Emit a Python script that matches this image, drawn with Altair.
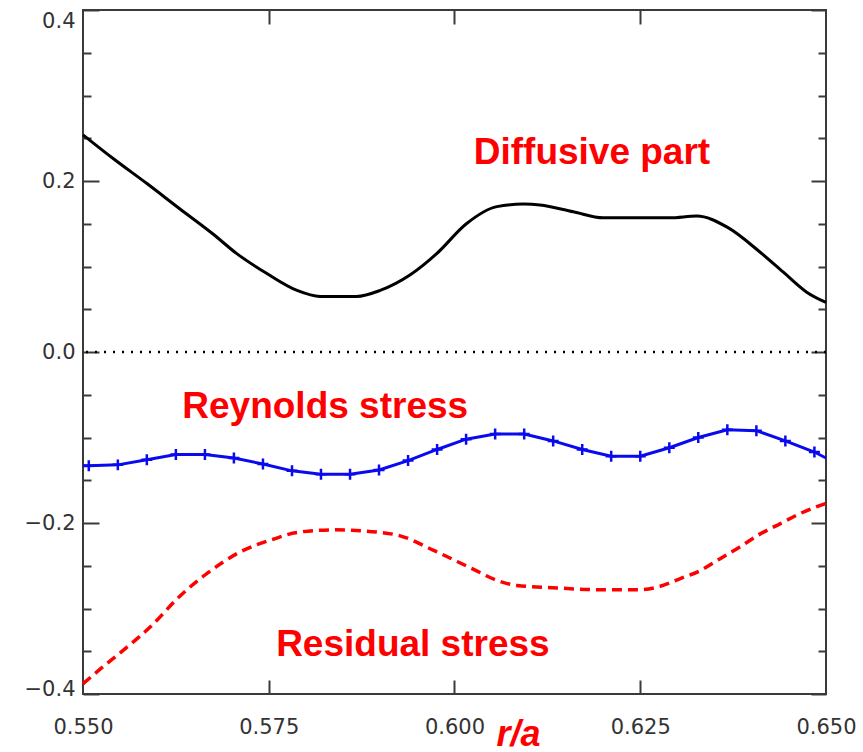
import altair as alt
import pandas as pd

# Diffusive part of the momentum flux (solid black)
diff_r = [0.5500, 0.5541, 0.5586, 0.5631, 0.5675, 0.5707, 0.5747, 0.5788, 0.5819,
          0.5868, 0.5900, 0.5940, 0.5976, 0.6016, 0.6057, 0.6093, 0.6115, 0.6160,
          0.6200, 0.6290, 0.6326, 0.6367, 0.6411, 0.6443, 0.6474, 0.6500]
diff_v = [0.254, 0.226, 0.197, 0.167, 0.138, 0.115, 0.092, 0.072, 0.065,
          0.065, 0.072, 0.090, 0.115, 0.150, 0.170, 0.173, 0.172, 0.164,
          0.157, 0.157, 0.159, 0.146, 0.117, 0.093, 0.070, 0.058]

# Residual stress (dashed red)
res_r = [0.5500, 0.5523, 0.5554, 0.5590, 0.5631, 0.5667, 0.5711, 0.5756, 0.5788,
         0.5837, 0.5900, 0.5927, 0.5972, 0.6025, 0.6057, 0.6084, 0.6138, 0.6196,
         0.6250, 0.6277, 0.6304, 0.6330, 0.6357, 0.6384, 0.6411, 0.6438, 0.6465,
         0.6500]
res_v = [-0.388, -0.371, -0.349, -0.322, -0.285, -0.259, -0.234, -0.219, -0.211,
         -0.208, -0.211, -0.215, -0.232, -0.254, -0.267, -0.273, -0.276, -0.278,
         -0.278, -0.274, -0.265, -0.256, -0.242, -0.228, -0.213, -0.201, -0.189,
         -0.177]

# Reynolds stress on the radial grid (blue, with markers)
rey_r = [0.55078, 0.55469, 0.55859, 0.56250, 0.56641, 0.57031, 0.57422, 0.57813,
         0.58203, 0.58594, 0.58984, 0.59375, 0.59766, 0.60156, 0.60547, 0.60938,
         0.61328, 0.61719, 0.62109, 0.62500, 0.62891, 0.63281, 0.63672, 0.64063,
         0.64453, 0.64844]
rey_v = [-0.133, -0.132, -0.126, -0.120, -0.120, -0.124, -0.131, -0.139,
         -0.143, -0.143, -0.138, -0.127, -0.114, -0.102, -0.096, -0.096,
         -0.104, -0.114, -0.122, -0.122, -0.112, -0.100, -0.091, -0.092,
         -0.104, -0.117]
rey_edge_r = [0.5500, 0.6500]
rey_edge_v = [-0.133, -0.124]

# Curve annotations
label_text = ["Diffusive part", "Reynolds stress", "Residual stress"]
label_r = [0.6185, 0.5826, 0.5944]
label_v = [0.220, -0.077, -0.355]

zero_level = [0.0]

# Axis ticks
x_label_values = [0.550, 0.575, 0.600, 0.625, 0.650]
x_inner_ticks = [0.575, 0.600, 0.625]
y_label_values = [-0.4, -0.2, 0.0, 0.2, 0.4]
y_minor_ticks = [-0.35, -0.30, -0.25, -0.15, -0.10, -0.05,
                 0.05, 0.10, 0.15, 0.25, 0.30, 0.35]

W, H = 743, 684
AX = "#3a3a3a"
RED = "#ff0000"
BLUE = "#0a0aee"

xscale = alt.Scale(domain=[0.55, 0.65], nice=False, zero=False)
yscale = alt.Scale(domain=[-0.4, 0.4], nice=False, zero=False)


def tick_axis(orient, values, size, offset):
    # inward-pointing ticks: an axis flipped onto the opposite edge
    return alt.Axis(orient=orient, values=values, tickSize=size, offset=offset,
                    labels=False, domain=False, grid=False, title=None,
                    tickColor=AX, tickWidth=2)


x_main_axis = alt.Axis(
    orient="bottom", values=x_label_values, format=".3f", ticks=False,
    domain=False, grid=False, labelFlush=False, labelOverlap=False,
    labelPadding=22, labelFont="DejaVu Sans", labelFontSize=21,
    labelColor="#333333",
    title="r/a", titleFont="Liberation Sans", titleFontSize=36,
    titleFontStyle="italic", titleFontWeight="bold", titleColor=RED,
    titleX=435, titleY=51, titleAlign="center", titleBaseline="alphabetic",
)
# end labels sit just inside the frame
y_main_axis = alt.Axis(
    orient="left", values=y_label_values, format=".1f", ticks=False,
    domain=False, grid=False, labelFlush=False, labelOverlap=False,
    labelPadding=8, labelFont="DejaVu Sans", labelFontSize=21,
    labelColor="#333333", title=None,
    labelOffset={
        "condition": [
            {"test": "datum.value > 0.39", "value": 11},
            {"test": "datum.value < -0.39", "value": -5},
        ],
        "value": 0,
    },
)

df_diff = pd.DataFrame({"r": diff_r, "v": diff_v})
df_res = pd.DataFrame({"r": res_r, "v": res_v})
df_rey_pts = pd.DataFrame({"r": rey_r, "v": rey_v})
df_rey_line = pd.DataFrame({"r": [rey_edge_r[0]] + rey_r + [rey_edge_r[1]],
                            "v": [rey_edge_v[0]] + rey_v + [rey_edge_v[1]]})
df_labels = pd.DataFrame({"r": label_r, "v": label_v, "label": label_text})
df_zero = pd.DataFrame({"v": zero_level})

diffusive = alt.Chart(df_diff).mark_line(
    color="black", strokeWidth=3, interpolate="monotone"
).encode(
    x=alt.X("r:Q", scale=xscale, axis=x_main_axis),
    y=alt.Y("v:Q", scale=yscale, axis=y_main_axis),
)

residual = alt.Chart(df_res).mark_line(
    color=RED, strokeWidth=3.5, strokeDash=[10, 6], interpolate="monotone"
).encode(
    x=alt.X("r:Q", scale=xscale, axis=tick_axis("top", x_inner_ticks, 14, -H)),
    y=alt.Y("v:Q", scale=yscale, axis=tick_axis("right", y_label_values, 16, -W)),
)

reynolds = alt.Chart(df_rey_line).mark_line(color=BLUE, strokeWidth=3).encode(
    x=alt.X("r:Q", scale=xscale, axis=tick_axis("bottom", x_inner_ticks, 14, -H)),
    y=alt.Y("v:Q", scale=yscale, axis=tick_axis("right", y_minor_ticks, 8, -W)),
)

reynolds_pts = alt.Chart(df_rey_pts).mark_point(
    shape="M0,-1V1M-1,0H1", size=120, filled=False, color=BLUE, strokeWidth=2.5,
    opacity=1
).encode(
    x=alt.X("r:Q", scale=xscale, axis=None),
    y=alt.Y("v:Q", scale=yscale, axis=tick_axis("left", y_label_values, 15, -W)),
)

zero_line = alt.Chart(df_zero).mark_rule(
    color="black", strokeWidth=2.5, strokeDash=[2, 7]
).encode(
    y=alt.Y("v:Q", scale=yscale, axis=tick_axis("left", y_minor_ticks, 8, -W)),
)

labels = alt.Chart(df_labels).mark_text(
    font="Liberation Sans", fontSize=37, fontWeight="bold", color=RED,
    align="center", baseline="alphabetic"
).encode(
    x=alt.X("r:Q", scale=xscale, axis=None),
    y=alt.Y("v:Q", scale=yscale, axis=None),
    text="label:N",
)

chart = alt.layer(
    zero_line, diffusive, residual, reynolds, reynolds_pts, labels
).resolve_axis(
    x="independent", y="independent"
).properties(
    width=W, height=H, autosize="none",
    padding={"left": 83, "top": 10, "right": 37, "bottom": 58},
    background="white",
).configure_view(stroke=AX, strokeWidth=2)

chart.save("out.html", embed_options={"renderer": "svg", "actions": False})
